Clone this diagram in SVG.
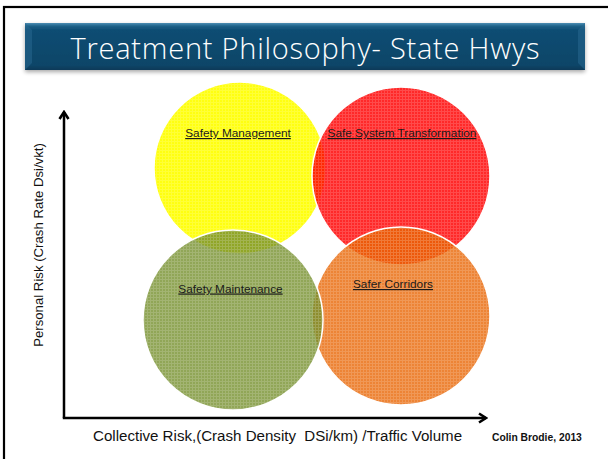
<svg xmlns="http://www.w3.org/2000/svg" width="608" height="459" viewBox="0 0 608 459">
<defs>
<style>
.lbl{font-family:"Liberation Sans",Arial,sans-serif;font-size:11.8px;fill:#1a1a1a;text-decoration:underline;text-anchor:middle}
.ax{font-family:"Liberation Sans",Arial,sans-serif;fill:#111;white-space:pre}
.circ{stroke:#fff;stroke-width:1.5}
.tex{fill:url(#tex);stroke:none}
.axis{stroke:#000;stroke-width:2.5;fill:none}
</style>
<linearGradient id="ban" x1="0" y1="0" x2="0" y2="1">
<stop offset="0" stop-color="#4b8db3"/>
<stop offset="0.07" stop-color="#1d5f86"/>
<stop offset="0.15" stop-color="#0f4d73"/>
<stop offset="0.9" stop-color="#0c4568"/>
<stop offset="1" stop-color="#093a58"/>
</linearGradient>
<filter id="sh" x="-5%" y="-20%" width="110%" height="150%">
<feGaussianBlur in="SourceAlpha" stdDeviation="2"/>
<feOffset dx="0" dy="2" result="b"/>
<feComponentTransfer><feFuncA type="linear" slope="0.35"/></feComponentTransfer>
<feMerge><feMergeNode/><feMergeNode in="SourceGraphic"/></feMerge>
</filter>
<pattern id="tex" width="3" height="3" patternUnits="userSpaceOnUse">
<rect x="0" y="0" width="3" height="1" fill="#fff" fill-opacity="0.16"/>
<rect x="0" y="1" width="1" height="2" fill="#fff" fill-opacity="0.16"/>
</pattern>
<marker id="arr" viewBox="0 0 12 12" refX="10" refY="6" markerWidth="12" markerHeight="12" markerUnits="userSpaceOnUse" orient="auto">
<path d="M3,1.5 L10,6 L3,10.5" fill="none" stroke="#000" stroke-width="2.6" stroke-linejoin="miter"/>
</marker>
</defs>
<rect width="608" height="459" fill="#fff"/>
<rect x="4" y="7" width="640" height="480" fill="none" stroke="#000" stroke-width="2.2"/>

<g id="title">
<rect x="25" y="23" width="560" height="47" fill="url(#ban)" filter="url(#sh)"/>
<path d="M25,23 L32,30 L32,63 L25,70 Z" fill="#2a6a92" opacity="0.5"/>
<path d="M585,23 L578,30 L578,63 L585,70 Z" fill="#2a6a92" opacity="0.5"/>
<text x="305" y="58.5" font-family="'Open Sans','Liberation Sans',Arial,sans-serif" font-weight="300" font-size="29" fill="#fff" text-anchor="middle" textLength="469">Treatment Philosophy- State Hwys</text>
</g>

<g id="axes">
<path class="axis" d="M64,418 L64,112" marker-end="url(#arr)"/>
<path class="axis" d="M62.8,418 L486,418" marker-end="url(#arr)"/>
<text class="ax" font-size="13.2" transform="translate(43,245) rotate(-90)" text-anchor="middle">Personal Risk (Crash Rate Dsi/vkt)</text>
<text class="ax" x="93" y="441" font-size="15.1">Collective Risk,(Crash Density  DSi/km) /Traffic Volume</text>
<text class="ax" x="492" y="441" font-size="10.3" font-weight="bold">Colin Brodie, 2013</text>
</g>

<g id="safety-management">
<circle class="circ" cx="240" cy="168" r="86" fill="#ffff10"/>
<circle class="tex" cx="240" cy="168" r="86"/>
<text class="lbl" x="238" y="137">Safety Management</text>
</g>

<g id="safe-system-transformation">
<circle class="circ" cx="401" cy="176" r="89" fill="#ff0000" fill-opacity="0.84"/>
<circle class="tex" cx="401" cy="176" r="89"/>
<text class="lbl" x="402" y="137">Safe System Transformation</text>
</g>

<g id="safer-corridors">
<circle class="circ" cx="401" cy="316" r="89" fill="rgb(232,101,4)" fill-opacity="0.8"/>
<circle class="tex" cx="401" cy="316" r="89"/>
<text class="lbl" x="393" y="288">Safer Corridors</text>
</g>

<g id="safety-maintenance">
<circle class="circ" cx="233" cy="320" r="90" fill="rgb(118,144,45)" fill-opacity="0.8"/>
<circle class="tex" cx="233" cy="320" r="90"/>
<text class="lbl" x="230.5" y="292.5">Safety Maintenance</text>
</g>
</svg>
